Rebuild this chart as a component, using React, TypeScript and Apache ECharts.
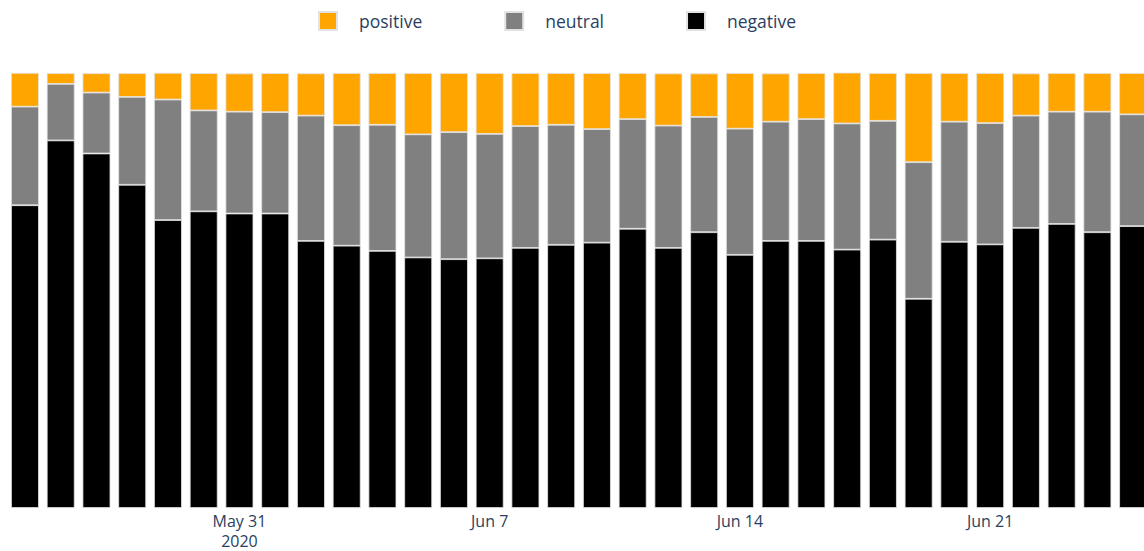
import React, { useEffect, useRef } from "react";
import * as echarts from "echarts";

const dates = [
  "2020-05-25", "2020-05-26", "2020-05-27", "2020-05-28", "2020-05-29", "2020-05-30",
  "2020-05-31", "2020-06-01", "2020-06-02", "2020-06-03", "2020-06-04", "2020-06-05",
  "2020-06-06", "2020-06-07", "2020-06-08", "2020-06-09", "2020-06-10", "2020-06-11",
  "2020-06-12", "2020-06-13", "2020-06-14", "2020-06-15", "2020-06-16", "2020-06-17",
  "2020-06-18", "2020-06-19", "2020-06-20", "2020-06-21", "2020-06-22", "2020-06-23",
  "2020-06-24", "2020-06-25",
];

const positive = [
  7.75, 2.46, 4.44, 5.45, 6.14, 8.57, 8.8, 8.97, 9.72, 12.0, 11.9, 14.1,
  13.6, 14.0, 12.2, 11.9, 12.9, 10.6, 12.0, 10.0, 12.8, 11.1, 10.6, 11.7,
  11.0, 20.5, 11.2, 11.5, 9.7, 8.9, 8.9, 9.5,
];
const neutral = [
  22.67, 13.0, 14.0, 20.2, 27.7, 23.2, 23.4, 23.3, 28.8, 27.7, 29.0, 28.3,
  29.2, 28.6, 28.0, 27.6, 26.1, 25.2, 28.1, 26.5, 29.0, 27.4, 28.0, 29.0,
  27.3, 31.4, 27.6, 27.9, 25.8, 25.8, 27.7, 25.7,
];
const negative = [
  69.6, 84.5, 81.5, 74.3, 66.2, 68.2, 67.7, 67.7, 61.4, 60.3, 59.1, 57.6,
  57.2, 57.4, 59.8, 60.5, 61.0, 64.2, 59.8, 63.4, 58.2, 61.4, 61.4, 59.4,
  61.7, 48.1, 61.2, 60.6, 64.4, 65.3, 63.4, 64.8,
];

const tickLabels: Record<string, string[]> = {
  "2020-05-31": ["May 31", "2020"],
  "2020-06-07": ["Jun 7"],
  "2020-06-14": ["Jun 14"],
  "2020-06-21": ["Jun 21"],
};

export default function App() {
  const ref = useRef<HTMLDivElement>(null);
  useEffect(() => {
    if (!ref.current) return;
    const chart = echarts.init(ref.current, undefined, { renderer: "svg" });
    const font = "'Open Sans', 'Noto Sans', sans-serif";
    const border = { borderColor: "#e2e2e2", borderWidth: 0.8 };
    const labelStyle = { color: "#2a3f5f", fontSize: 16, fontFamily: font };
    chart.setOption({
      animation: false,
      backgroundColor: "#ffffff",
      legend: {
        data: ["positive", "neutral", "negative"],
        top: 11,
        left: 318,
        padding: 0,
        itemWidth: 18,
        itemHeight: 18,
        itemGap: 82,
        icon: "rect",
        textStyle: {
          color: "#2a3f5f",
          fontSize: 17.5,
          fontFamily: font,
          padding: [0, 0, 0, 17],
        },
      },
      grid: {
        left: 7.1,
        right: 0,
        top: 73,
        bottom: 43,
        containLabel: false,
        outerBoundsMode: "none",
      },
      xAxis: {
        type: "category",
        data: dates,
        axisLine: { show: false },
        axisTick: { show: false },
        axisLabel: {
          interval: (_i: number, v: string) => v in tickLabels,
          formatter: (v: string) => {
            const l = tickLabels[v];
            if (!l) return "";
            return l.length > 1 ? `{a|${l[0]}}\n{b|${l[1]}}` : `{a|${l[0]}}`;
          },
          margin: 2,
          rich: {
            a: { ...labelStyle, lineHeight: 22 },
            b: { ...labelStyle, lineHeight: 18 },
          },
        },
      },
      yAxis: {
        type: "value",
        min: 0,
        max: 100,
        show: false,
        splitLine: { show: false },
      },
      series: [
        {
          name: "negative",
          type: "bar",
          stack: "s",
          data: negative,
          barWidth: "78%",
          itemStyle: { color: "#000000", ...border },
        },
        {
          name: "neutral",
          type: "bar",
          stack: "s",
          data: neutral,
          itemStyle: { color: "#808080", ...border },
        },
        {
          name: "positive",
          type: "bar",
          stack: "s",
          data: positive,
          itemStyle: { color: "#FFA500", ...border },
        },
      ],
    });
    return () => chart.dispose();
  }, []);
  return (
    <div
      style={{
        position: "fixed",
        left: 0,
        top: 0,
        width: 1144,
        height: 551,
        overflow: "hidden",
      }}
    >
      <div ref={ref} style={{ width: 1151, height: 551 }} />
    </div>
  );
}
